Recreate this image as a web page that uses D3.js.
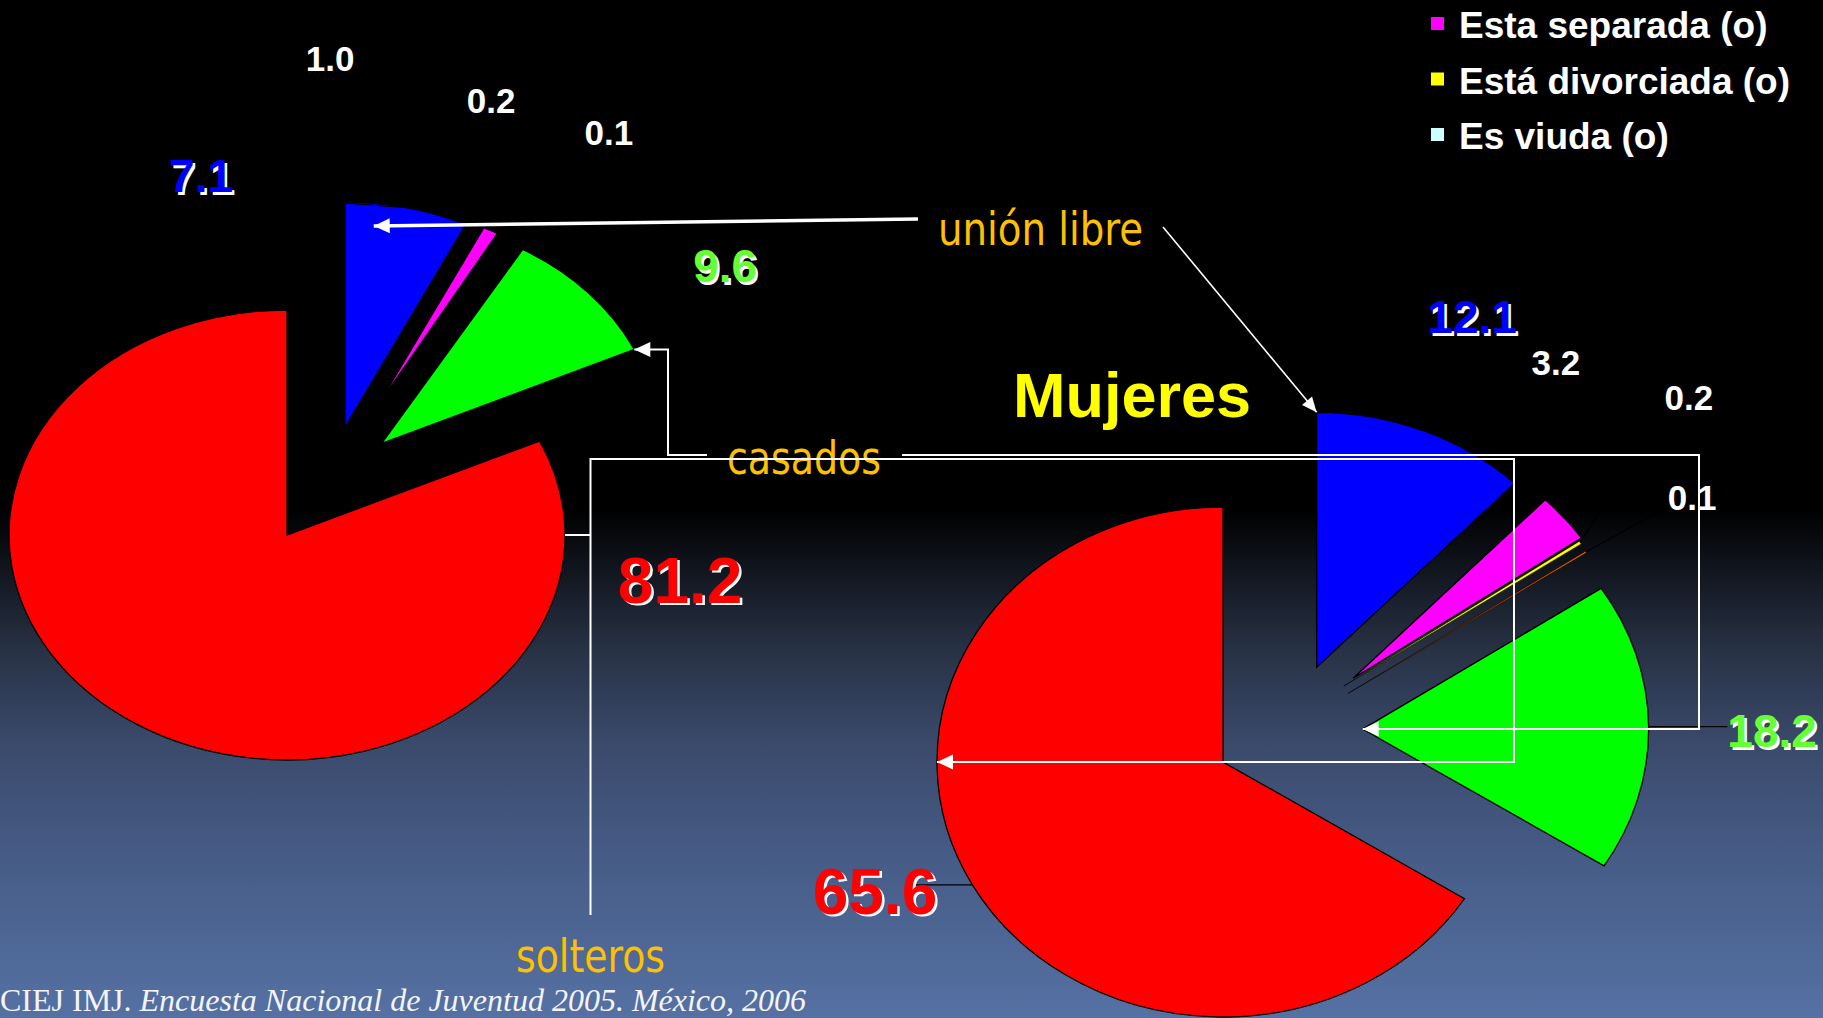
<!DOCTYPE html>
<html>
<head>
<meta charset="utf-8">
<script src="https://cdn.jsdelivr.net/npm/d3@7"></script>
<style>
html,body{margin:0;padding:0;background:#000;overflow:hidden}
svg{display:block}
</style>
</head>
<body>
<svg id="chart" width="1823" height="1018"></svg>
<script>
// ---------------- DATA ----------------
const categories = ["Unión libre", "Esta separada (o)", "Está divorciada (o)", "Es viuda (o)", "Casados", "Solteros"];
const hombresValues = [7.1, 1.0, 0.2, 0.1, 9.6, 81.2];
const mujeresValues = [12.1, 3.2, 0.2, 0.1, 18.2, 65.6];
const legendLabels = ["Esta separada (o)", "Está divorciada (o)", "Es viuda (o)"];
const calloutLabels = ["unión libre", "casados", "solteros"];
const titleText = "Mujeres";
const sourceUpright = "CIEJ IMJ. ";
const sourceItalic = "Encuesta Nacional de Juventud 2005. México, 2006";

// ---------------- STYLE / LAYOUT ----------------
const W = 1823, H = 1018;
const rad = Math.PI / 180;
const legendColors = ["#FF00FF", "#FFFF00", "#CCFFFF"];
const labelFill = ["#0000FF", "#FFFFFF", "#FFFFFF", "#FFFFFF", "#66FF33", "#FF0000"];
const labelSize = [46, 35, 35, 35, 46, 64];
const labelShadow = [true, false, false, false, true, true];
const sliceStroke = [1.3, 1.3, 0.6, 0.6, 1.3, 1.3];
const sansBold = "'Liberation Sans', Arial, Helvetica, sans-serif";
const calloutFont = "'DejaVu Sans Condensed', 'DejaVu Sans', Tahoma, sans-serif";
const calloutColor = "#FFC000";

const pies = [
  { values: hombresValues, cx: 287, cy: 535, rx: 278, ry: 225,
    colors: ["#0000FF", "#FF00FF", "#000000", "#000000", "#00FF00", "#FF0000"],
    explode: [[0.523, 23.5], [0.679, 29.5], [0.68, 31], [0.68, 32], [0.531, 39.9], [0, 0]],
    radiusScale: [1, 0.86, 0.86, 0.86, 1, 1],
    leader: [true, true, true, true, true, false],
    labelPos: [[-0.309, -1.596], [0.155, -2.116], [0.734, -1.933], [1.158, -1.787], [1.576, -1.196], [1.414, 0.2]] },
  { values: mujeresValues, cx: 1223, cy: 762, rx: 286, ry: 255,
    colors: ["#0000FF", "#FF00FF", "#FFFF00", "#FF6600", "#00FF00", "#FF0000"],
    explode: [[0.495, 41.4], [0.561, 54.2], [0.517, 54.8], [0.513, 58.4], [0.505, 75.2], [0, 0]],
    radiusScale: [1, 0.97, 1, 1, 1, 1],
    leader: [true, true, true, true, true, true],
    labelPos: [[0.871, -1.745], [1.164, -1.565], [1.629, -1.431], [1.64, -1.039], [1.92, -0.122], [-1.217, 0.506]] }
];

const svg = d3.select("#chart");
const defs = svg.append("defs");
const grad = defs.append("linearGradient").attr("id", "bg")
  .attr("x1", 0).attr("y1", 0).attr("x2", 0).attr("y2", 1);
[[0, "#000000"], [0.5, "#000000"], [0.64, "#283246"], [0.73, "#3a4a6b"], [0.86, "#485e8a"], [1, "#5571a3"]]
  .forEach(([o, c]) => grad.append("stop").attr("offset", o).attr("stop-color", c));
svg.append("rect").attr("width", W).attr("height", H).attr("fill", "url(#bg)");

// ---------------- PIES ----------------
const R0 = 100;
const pieGen = d3.pie().sort(null).value(d => d);
const arcGen = d3.arc().innerRadius(0).outerRadius(R0);

pies.forEach(p => {
  p.arcs = pieGen(p.values);
  p.offset = p.explode.map(([dist, ang]) => [dist * Math.sin(ang * rad) * p.rx, -dist * Math.cos(ang * rad) * p.ry]);
});
function pt(p, i, a, r) {
  const k = r * p.radiusScale[i];
  return [p.cx + p.offset[i][0] + k * Math.sin(a) * p.rx, p.cy + p.offset[i][1] - k * Math.cos(a) * p.ry];
}

const pieLayer = svg.append("g");
pies.forEach(p => {
  pieLayer.append("g").selectAll("g").data(p.arcs).join("g")
    .attr("transform", (d, i) => `translate(${p.cx + p.offset[i][0]},${p.cy + p.offset[i][1]}) scale(${p.rx * p.radiusScale[i] / R0},${p.ry * p.radiusScale[i] / R0})`)
    .append("path")
    .attr("d", arcGen)
    .attr("fill", (d, i) => p.colors[i])
    .attr("stroke", "#000")
    .attr("stroke-width", (d, i) => sliceStroke[i])
    .attr("vector-effect", "non-scaling-stroke");
});

// ---------------- DATA LABELS ----------------
const fmt = d3.format(".1f");
const leaderLayer = svg.append("g");
const labelLayer = svg.append("g");
pies.forEach(p => {
  p.arcs.forEach((a, i) => {
    const x = p.cx + p.labelPos[i][0] * p.rx;
    const y = p.cy + p.labelPos[i][1] * p.ry + 0.358 * labelSize[i];
    const g = labelLayer.append("g");
    if (labelShadow[i]) {
      g.append("text").attr("x", x + 2.5).attr("y", y + 2.5)
        .attr("text-anchor", "middle").attr("font-family", sansBold).attr("font-weight", "bold")
        .attr("font-size", labelSize[i]).attr("fill", "#FFFFFF").text(fmt(a.data));
    }
    const t = g.append("text").attr("x", x).attr("y", y)
      .attr("text-anchor", "middle").attr("font-family", sansBold).attr("font-weight", "bold")
      .attr("font-size", labelSize[i]).attr("fill", labelFill[i]).text(fmt(a.data));
    if (!p.leader[i]) return;
    const bb = t.node().getBBox();
    const mid = (a.startAngle + a.endAngle) / 2;
    const s = pt(p, i, mid, 1);
    const e = [Math.max(bb.x, Math.min(bb.x + bb.width - 30, s[0])), Math.max(bb.y + 10, Math.min(bb.y + bb.height - 10, s[1]))];
    leaderLayer.append("line").attr("x1", s[0]).attr("y1", s[1]).attr("x2", e[0]).attr("y2", e[1])
      .attr("stroke", "#000").attr("stroke-width", 1.2);
  });
});

// ---------------- CALLOUTS ----------------
const callouts = [
  { x: 938, y: 245, w: 205 },
  { x: 727, y: 474, w: 154 },
  { x: 516, y: 972, w: 149 }
];
callouts.forEach((c, i) => {
  svg.append("text").attr("x", c.x).attr("y", c.y)
    .attr("font-family", calloutFont).attr("font-stretch", "condensed")
    .attr("font-size", 46).attr("fill", calloutColor)
    .attr("textLength", c.w).attr("lengthAdjust", "spacingAndGlyphs")
    .text(calloutLabels[i]);
});

const lineLayer = svg.append("g");
function poly(points, w) {
  lineLayer.append("path").attr("d", d3.line()(points))
    .attr("fill", "none").attr("stroke", "#FFFFFF").attr("stroke-width", w)
    .attr("stroke-linejoin", "miter");
}
function arrow(tip, from, len, wid) {
  const dx = tip[0] - from[0], dy = tip[1] - from[1];
  const L = Math.hypot(dx, dy), ux = dx / L, uy = dy / L;
  const bx = tip[0] - ux * len, by = tip[1] - uy * len;
  const nx = -uy * wid / 2, ny = ux * wid / 2;
  lineLayer.append("path")
    .attr("d", `M${tip[0]},${tip[1]}L${bx + nx},${by + ny}L${bx - nx},${by - ny}Z`)
    .attr("fill", "#FFFFFF");
}
const [L, Rp] = pies;

// unión libre -> left (blue slice)
{
  const tip = pt(L, 0, 6.6 * rad, 0.9);
  const start = [callouts[0].x - 20, 219];
  poly([start, tip], 3.5); arrow(tip, start, 16, 15);
}
// unión libre -> right (blue slice top)
{
  const tip = pt(Rp, 0, Rp.arcs[0].startAngle, 1);
  const start = [callouts[0].x + callouts[0].w + 20, 227];
  poly([start, tip], 1.6); arrow(tip, start, 15, 13);
}
// casados -> left green corner
{
  const tip = pt(L, 4, L.arcs[4].endAngle, 1);
  const jx = callouts[1].x - 59, yy = 455;
  poly([[callouts[1].x - 20, yy], [jx, yy], [jx, tip[1]], tip], 2);
  arrow(tip, [jx, tip[1]], 16, 15);
}
// casados -> right green apex
{
  const tip = pt(Rp, 4, 0, 0);
  const jx = 1699, yy = 455;
  poly([[callouts[1].x + callouts[1].w + 21, yy], [jx, yy], [jx, tip[1]], tip], 2);
  arrow(tip, [jx, tip[1]], 16, 15);
}
// solteros -> right red leftmost & left red rightmost
{
  const tip = pt(Rp, 5, 270 * rad, 1);
  const vx = callouts[2].x + callouts[2].w / 2, yy = 459, jx = 1514;
  poly([[vx, callouts[2].y - 57], [vx, yy], [jx, yy], [jx, tip[1]], tip], 2);
  arrow(tip, [jx, tip[1]], 16, 15);
  const s = pt(L, 5, 90 * rad, 1);
  poly([s, [vx, s[1]]], 2);
}

// ---------------- TITLE ----------------
svg.append("text").attr("x", 1013).attr("y", 417)
  .attr("font-family", sansBold).attr("font-weight", "bold").attr("font-size", 63)
  .attr("fill", "#FFFF00").text(titleText);

// ---------------- LEGEND ----------------
const legend = svg.append("g");
legendLabels.forEach((t, i) => {
  const y = 38 + i * 55.5;
  legend.append("rect").attr("x", 1431).attr("y", y - 21).attr("width", 13).attr("height", 13)
    .attr("fill", legendColors[i]);
  legend.append("text").attr("x", 1459).attr("y", y)
    .attr("font-family", sansBold).attr("font-weight", "bold").attr("font-size", 37)
    .attr("fill", "#FFFFFF").text(t);
});

// ---------------- SOURCE ----------------
const src = svg.append("text").attr("x", 0).attr("y", 1011)
  .attr("font-family", "'Liberation Serif', 'Times New Roman', serif").attr("font-size", 32)
  .attr("fill", "#F4F4F8");
src.append("tspan").text(sourceUpright);
src.append("tspan").attr("font-style", "italic").text(sourceItalic);
</script>
</body>
</html>
